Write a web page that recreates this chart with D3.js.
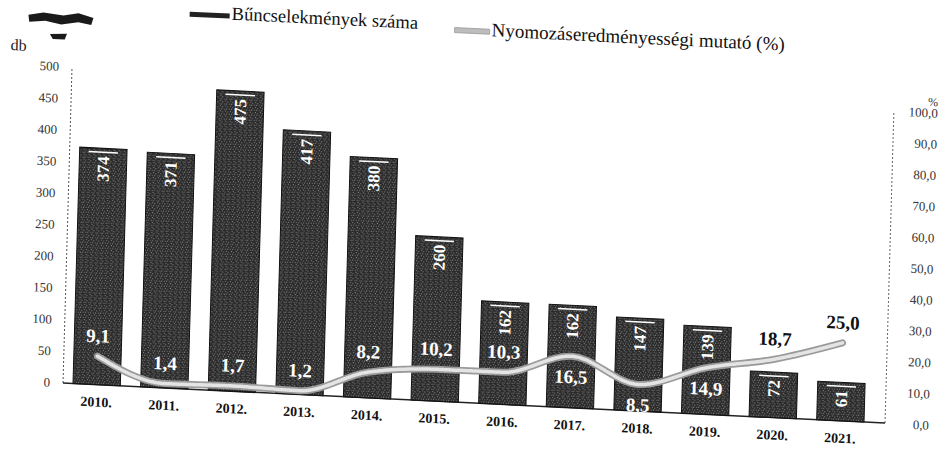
<!DOCTYPE html>
<html>
<head>
<meta charset="utf-8">
<script src="https://cdn.jsdelivr.net/npm/d3@7"></script>
<style>
  html, body { margin: 0; padding: 0; background: #fff; }
  svg { display: block; }
</style>
</head>
<body>
<svg id="chart" width="943" height="453"></svg>
<script>
// ---- data ----
const years = ["2010.", "2011.", "2012.", "2013.", "2014.", "2015.", "2016.", "2017.", "2018.", "2019.", "2020.", "2021."];
const crimes = [374, 371, 475, 417, 380, 260, 162, 162, 147, 139, 72, 61];
const ratio = [9.1, 1.4, 1.7, 1.2, 8.2, 10.2, 10.3, 16.5, 8.5, 14.9, 18.7, 25.0];
const leftTicks = [0, 50, 100, 150, 200, 250, 300, 350, 400, 450, 500];
const rightTicks = [0, 10, 20, 30, 40, 50, 60, 70, 80, 90, 100];
const labelsBelow = ["2017.", "2018.", "2019."];
const legendBars = "Bűncselekmények száma";
const legendLine = "Nyomozáseredményességi mutató (%)";
const leftUnit = "db";
const rightUnit = "%";

const serif = "'Liberation Serif', 'Times New Roman', 'DejaVu Serif', serif";
const fmt = v => v.toFixed(1).replace(".", ",");

const svg = d3.select("#chart");
const defs = svg.append("defs");

// speckled dark fill, imitating the scanned bars
const pat = defs.append("pattern").attr("id", "speck")
  .attr("width", 5).attr("height", 5).attr("patternUnits", "userSpaceOnUse");
pat.append("rect").attr("width", 5).attr("height", 5).attr("fill", "#2a2a2a");
[[1,1],[3,3],[4,0],[0,3]].forEach(([x, y]) =>
  pat.append("rect").attr("x", x).attr("y", y).attr("width", 1).attr("height", 1).attr("fill", "#8c8c8c"));

// the whole scanned chart is slightly skewed
const g = svg.append("g").attr("transform", "matrix(1,0.0487,-0.0285,1,63,383)");

const W = 822;
const x = d3.scaleBand().domain(years).range([10, 801]).paddingInner(0.3).paddingOuter(0);
const y = d3.scaleLinear().domain([0, 500]).range([0, -316]);
const yR = d3.scaleLinear().domain([0, 100]).range([0, -312]);

// left axis (dotted)
g.append("line").attr("x1", 0).attr("x2", 0).attr("y1", 0).attr("y2", y(500))
  .attr("stroke", "#555").attr("stroke-width", 1).attr("stroke-dasharray", "2,2");
g.selectAll(".lt").data(leftTicks).enter().append("text")
  .attr("x", -13).attr("y", d => y(d)).attr("dy", "0.35em")
  .attr("text-anchor", "end").attr("font-family", serif).attr("font-size", 13)
  .attr("fill", "#333").text(d => d);
g.append("text").attr("x", -62).attr("y", -330).attr("font-family", serif)
  .attr("font-size", 16).attr("fill", "#222").text(leftUnit);

// right axis (dotted)
g.append("line").attr("x1", W).attr("x2", W).attr("y1", 0).attr("y2", yR(100))
  .attr("stroke", "#666").attr("stroke-width", 1).attr("stroke-dasharray", "2,2");
g.selectAll(".rt").data(rightTicks).enter().append("text")
  .attr("x", 866).attr("y", d => yR(d)).attr("dy", "0.35em")
  .attr("text-anchor", "end").attr("font-family", serif).attr("font-size", 13)
  .attr("fill", "#333").text(d => fmt(d));
g.append("text").attr("x", 866).attr("y", -319).attr("text-anchor", "end")
  .attr("font-family", serif).attr("font-size", 12).attr("fill", "#333").text(rightUnit);

// baseline
g.append("line").attr("x1", 0).attr("x2", W).attr("y1", 0).attr("y2", 0)
  .attr("stroke", "#222").attr("stroke-width", 1.5);

// bars
const bars = g.selectAll(".bar").data(years).enter().append("g");
bars.append("rect")
  .attr("x", d => x(d)).attr("width", x.bandwidth())
  .attr("y", (d, i) => y(crimes[i])).attr("height", (d, i) => -y(crimes[i]))
  .attr("fill", "url(#speck)").attr("stroke", "#111").attr("stroke-width", 1);
bars.append("line")
  .attr("x1", d => x(d) + 9).attr("x2", d => x(d) + x.bandwidth() - 9)
  .attr("y1", (d, i) => y(crimes[i]) + 4).attr("y2", (d, i) => y(crimes[i]) + 4)
  .attr("stroke", "#fff").attr("stroke-width", 1.5);
bars.append("text")
  .attr("transform", (d, i) => `translate(${x(d) + x.bandwidth() / 2 + 6},${y(crimes[i]) + 8}) rotate(-90)`)
  .attr("text-anchor", "end").attr("font-family", serif).attr("font-weight", "bold")
  .attr("font-size", 17).attr("fill", "#fff").text((d, i) => crimes[i]);

// category labels
g.selectAll(".xl").data(years).enter().append("text")
  .attr("x", d => x(d) + x.bandwidth() / 2).attr("y", 22)
  .attr("text-anchor", "middle").attr("font-family", serif).attr("font-weight", "bold")
  .attr("font-size", 14).attr("fill", "#111").text(d => d);

// ratio line
const pts = years.map((d, i) => [x(d) + x.bandwidth() / 2, yR(ratio[i])]);
const line = d3.line().curve(d3.curveMonotoneX);
g.append("path").attr("d", line(pts)).attr("fill", "none")
  .attr("stroke", "#9a9a9a").attr("stroke-width", 7).attr("stroke-linecap", "round");
g.append("path").attr("d", line(pts)).attr("fill", "none")
  .attr("stroke", "#e4e4e4").attr("stroke-width", 3.5).attr("stroke-linecap", "round")
  .attr("stroke-dasharray", "3,1");

// ratio labels
years.forEach((d, i) => {
  const below = labelsBelow.includes(d);
  const ly = yR(ratio[i]) + (below ? 27 : -14);
  const onBar = ly - 7 > y(crimes[i]);
  g.append("text").attr("x", pts[i][0]).attr("y", ly)
    .attr("text-anchor", "middle").attr("font-family", serif).attr("font-weight", "bold")
    .attr("font-size", 19).attr("fill", onBar ? "#fff" : "#111").text(fmt(ratio[i]));
});

// legend
g.append("rect").attr("x", 116).attr("y", -377).attr("width", 40).attr("height", 5).attr("fill", "#222");
g.append("text").attr("x", 158).attr("y", -371).attr("font-family", serif)
  .attr("font-size", 18.5).attr("fill", "#111").text(legendBars);
g.append("rect").attr("x", 381).attr("y", -374).attr("width", 35).attr("height", 5)
  .attr("fill", "#bdbdbd").attr("stroke", "#999").attr("stroke-width", 0.8);
g.append("text").attr("x", 418).attr("y", -367).attr("font-family", serif)
  .attr("font-size", 19).attr("fill", "#111").text(legendLine);

// illegible scan smudges at top-left
g.append("path").attr("d", "M-45,-366 L-30,-369 L-10,-367 L5,-370 L20,-366 L18,-359 L5,-361 L-12,-358 L-28,-361 L-44,-359 Z").attr("fill", "#1a1a1a");
g.append("path").attr("d", "M-23,-348 L-6,-349 L-8,-343 L-20,-343 Z").attr("fill", "#1a1a1a");
</script>
</body>
</html>
